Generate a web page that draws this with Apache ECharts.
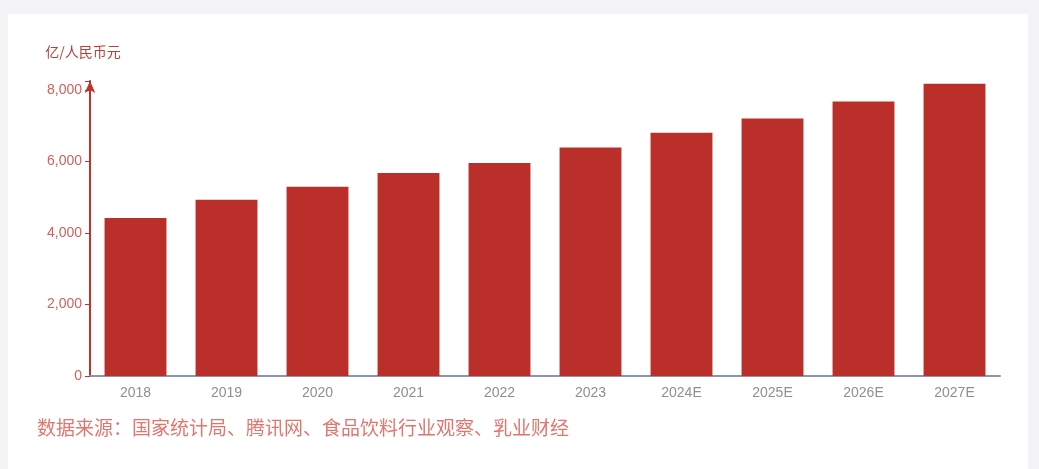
<!DOCTYPE html><html><head><meta charset="utf-8">
<script src="https://cdn.jsdelivr.net/npm/echarts@6/dist/echarts.min.js"></script>
<style>html,body{margin:0;background:#f4f4f6;}#c{position:absolute;left:8px;top:14px;width:1020px;height:455px;background:#fff;}</style>
</head><body><div id="c"></div><script>
const categories=['2018','2019','2020','2021','2022','2023','2024E','2025E','2026E','2027E'];
const values=[4420,4930,5290,5680,5960,6390,6800,7200,7680,8170];
const yTicks=[0,2000,4000,6000,8000];
const chart=echarts.init(document.getElementById('c'));
chart.setOption({
 grid:{left:82,right:28,top:67,bottom:93},
 title:{text:'数据来源：国家统计局、腾讯网、食品饮料行业观察、乳业财经',left:24,bottom:27,textStyle:{fontSize:19,fontWeight:'normal',color:'#e0766e',fontFamily:'Noto Sans CJK SC'}},
 xAxis:{type:'category',data:categories,axisLine:{lineStyle:{color:'#8a96ad',width:2}},axisTick:{lineStyle:{color:'#8a96ad'}},axisLabel:{color:'#8d8f96',fontSize:14,margin:10}},
 yAxis:{type:'value',min:0,max:8250,interval:2000,name:'亿/人民币元',nameGap:22,nameTextStyle:{color:'#b8403a',fontSize:14,padding:[0,0,0,-14],fontFamily:'Noto Sans CJK SC'},
  axisLine:{show:true,symbol:['none','arrow'],symbolSize:[8,12],lineStyle:{color:'#c0322c',width:2}},axisTick:{show:true,lineStyle:{color:'#c0322c'}},
  splitLine:{show:false},axisLabel:{color:'#d0625c',fontSize:14,formatter:v=>yTicks.includes(v)?v.toLocaleString('en-US'):''}},
 series:[{type:'bar',data:values,barWidth:'68%',itemStyle:{color:'#bb2f2b'}}]
});
</script></body></html>
